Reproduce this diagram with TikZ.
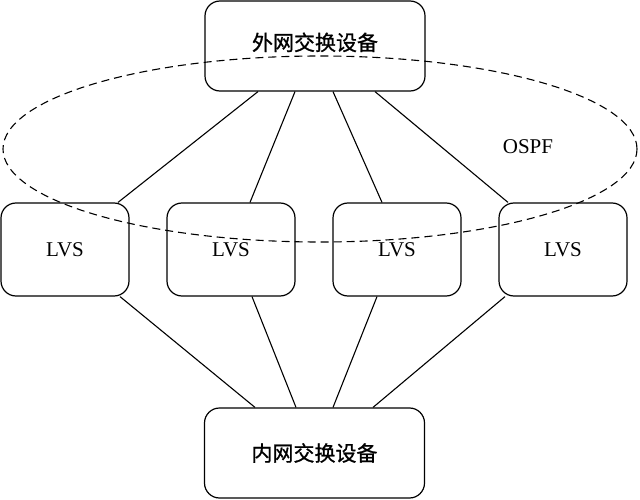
\documentclass[tikz,border=0pt]{standalone}
\usepackage{fontspec}
\setmainfont{Liberation Serif}
\newfontfamily\cjk[FakeBold=1]{Noto Sans CJK SC}
\begin{document}
\begin{tikzpicture}[x=1pt,y=-1pt,
  box/.style={draw, line width=1.2pt, rounded corners=15pt, inner sep=0pt},
  bigbox/.style={box, minimum width=220pt, minimum height=90pt, font=\cjk\fontsize{21}{24}\selectfont},
  lvsbox/.style={box, minimum width=128pt, minimum height=93pt, font=\fontsize{21}{24}\selectfont},
  link/.style={line width=1.1pt},
  ospf/.style={line width=1.1pt, dash pattern=on 8pt off 5pt}]
\useasboundingbox (0,0) rectangle (640,500);
\node[bigbox] (top) at (315,46) {\raisebox{9pt}{外网交换设备}};
\node[bigbox] (bot) at (314.5,453) {内网交换设备};
\node[lvsbox] (L1) at (65,249.5) {LVS};
\node[lvsbox] (L2) at (231,249.5) {LVS};
\node[lvsbox] (L3) at (397,249.5) {LVS};
\node[lvsbox] (L4) at (563,249.5) {LVS};
\node[font=\fontsize{21}{24}\selectfont] (ospflbl) at (528,147) {OSPF};
\draw[ospf] (320,149) ellipse [x radius=317, y radius=93];
\draw[link] ([xshift=-57pt]top.south) -- ([xshift=53pt]L1.north);
\draw[link] ([xshift=-20pt]top.south) -- ([xshift=19pt]L2.north);
\draw[link] ([xshift=18pt]top.south) -- ([xshift=-15pt]L3.north);
\draw[link] ([xshift=60pt]top.south) -- ([xshift=-55pt]L4.north);
\draw[link] ([xshift=55pt]L1.south) -- ([xshift=-59.5pt]bot.north);
\draw[link] ([xshift=21pt]L2.south) -- ([xshift=-18.5pt]bot.north);
\draw[link] ([xshift=-20pt]L3.south) -- ([xshift=18.5pt]bot.north);
\draw[link] ([xshift=-58pt]L4.south) -- ([xshift=58.5pt]bot.north);
\end{tikzpicture}
\end{document}
